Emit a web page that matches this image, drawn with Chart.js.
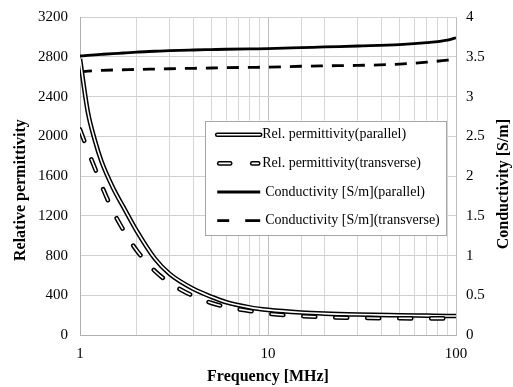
<!DOCTYPE html>
<html>
<head>
<meta charset="utf-8">
<script src="https://cdn.jsdelivr.net/npm/chart.js@4.4.1/dist/chart.umd.min.js"></script>
<style>
  html, body { margin: 0; padding: 0; background: #fff; }
  #wrap { width: 513px; height: 387px; }
</style>
</head>
<body>
<div id="wrap"><canvas id="chart"></canvas></div>
<script>
// === Data ===
const freqMHz = [1, 1.1, 1.2, 1.3, 1.5, 1.7, 2, 2.5, 3, 4, 5, 6, 8, 10, 15, 20, 30, 50, 70, 90, 100];
const permParallel = [2780, 2250, 1960, 1750, 1480, 1290, 1050, 770, 615, 465, 385, 330, 278, 253, 226, 215, 206, 199, 195, 192, 191];
const permTransverse = [2070, 1860, 1680, 1510, 1245, 1058, 853, 645, 525, 393, 322, 283, 242, 215, 190, 180, 172, 168, 167, 167, 168];
const condParallel = [3.512, 3.52, 3.527, 3.533, 3.543, 3.55, 3.562, 3.572, 3.58, 3.588, 3.593, 3.597, 3.602, 3.605, 3.617, 3.626, 3.638, 3.655, 3.68, 3.712, 3.74];
const condTransverse = [3.31, 3.322, 3.327, 3.331, 3.336, 3.339, 3.343, 3.348, 3.352, 3.357, 3.361, 3.365, 3.369, 3.372, 3.383, 3.388, 3.394, 3.41, 3.435, 3.46, 3.475];

const seriesNames = [
  "Rel. permittivity(parallel)",
  "Rel. permittivity(transverse)",
  "Conductivity [S/m](parallel)",
  "Conductivity [S/m](transverse)",
];
const leftTitle = "Relative permittivity";
const rightTitle = "Conductivity [S/m]";

const SERIF = "'Liberation Serif', 'Times New Roman', serif";
const toPoints = (ys) => freqMHz.map((f, i) => ({ x: f, y: ys[i] }));

const PERM_DASH = [12, 20];
const COND_DASH = [12, 9];
const OUTER = 4.6;
const INNER = 1.6;
const COND_W = 2.8;

// double line = wide black stroke + thin white stroke on top
const datasets = [
  { label: seriesNames[1], data: toPoints(permTransverse), borderColor: "#fff", borderWidth: INNER, borderDash: PERM_DASH, borderCapStyle: "round", order: 0, yAxisID: "y" },
  { label: seriesNames[1], data: toPoints(permTransverse), borderColor: "#000", borderWidth: OUTER, borderDash: PERM_DASH, borderCapStyle: "round", order: 1, yAxisID: "y" },
  { label: seriesNames[0], data: toPoints(permParallel), borderColor: "#fff", borderWidth: INNER, order: 2, yAxisID: "y" },
  { label: seriesNames[0], data: toPoints(permParallel), borderColor: "#000", borderWidth: OUTER, order: 3, yAxisID: "y" },
  { label: seriesNames[2], data: toPoints(condParallel), borderColor: "#000", borderWidth: COND_W, order: 4, yAxisID: "y1" },
  { label: seriesNames[3], data: toPoints(condTransverse), borderColor: "#000", borderWidth: COND_W, borderDash: COND_DASH, order: 5, yAxisID: "y1" },
];
datasets.forEach((ds) => {
  ds.pointRadius = 0;
  ds.fill = false;
  ds.cubicInterpolationMode = "monotone";
});

// === Legend box + y axis titles ===
function stroke(ctx, segs, cy, x0, color, width, cap) {
  ctx.strokeStyle = color;
  ctx.lineWidth = width;
  ctx.lineCap = cap;
  segs.forEach(([a, b]) => {
    ctx.beginPath();
    ctx.moveTo(x0 + a, cy);
    ctx.lineTo(x0 + b, cy);
    ctx.stroke();
  });
}

const boxLegend = {
  id: "boxLegend",
  afterDatasetsDraw(chart) {
    const { ctx, chartArea: a } = chart;
    const w = a.right - a.left;
    const h = a.bottom - a.top;
    const x0 = a.left + w * 0.333;
    const y0 = a.top + h * 0.325;
    const bw = w * 0.642;
    const bh = h * 0.36;
    ctx.save();
    ctx.fillStyle = "#fff";
    ctx.fillRect(x0, y0, bw, bh);
    ctx.strokeStyle = "#a6a6a6";
    ctx.lineWidth = 1;
    ctx.strokeRect(Math.round(x0) + 0.5, Math.round(y0) + 0.5, Math.round(bw), Math.round(bh));

    const rowH = bh / 4;
    ctx.font = "14px " + SERIF;
    ctx.textBaseline = "middle";
    seriesNames.forEach((name, i) => {
      const cy = y0 + rowH * (i + 0.5);
      if (i === 0) {
        stroke(ctx, [[12, 55]], cy, x0, "#000", OUTER, "round");
        stroke(ctx, [[12, 55]], cy, x0, "#fff", INNER, "round");
      } else if (i === 1) {
        stroke(ctx, [[14, 25], [47, 53]], cy, x0, "#000", OUTER, "round");
        stroke(ctx, [[14, 25], [47, 53]], cy, x0, "#fff", INNER, "round");
      } else if (i === 2) {
        stroke(ctx, [[12, 55]], cy, x0, "#000", COND_W, "butt");
      } else {
        stroke(ctx, [[12, 24], [40, 55]], cy, x0, "#000", COND_W, "butt");
      }
      ctx.fillStyle = "#000";
      ctx.fillText(name, x0 + 57 + (i > 1 ? 3 : 0), cy);
    });
    ctx.restore();
  },
  afterDraw(chart) {
    const { ctx, chartArea: a } = chart;
    const mid = (a.top + a.bottom) / 2;
    ctx.save();
    ctx.fillStyle = "#000";
    ctx.font = "bold 16px " + SERIF;
    ctx.textAlign = "center";
    ctx.textBaseline = "middle";
    ctx.translate(chart.scales.y.left + 21, mid + 14);
    ctx.rotate(-Math.PI / 2);
    ctx.fillText(leftTitle, 0, 0);
    ctx.restore();
    ctx.save();
    ctx.fillStyle = "#000";
    ctx.font = "bold 16px " + SERIF;
    ctx.textAlign = "center";
    ctx.textBaseline = "middle";
    ctx.translate(chart.scales.y1.right - 9, mid + 8);
    ctx.rotate(-Math.PI / 2);
    ctx.fillText(rightTitle, 0, 0);
    ctx.restore();
  },
};

// === Chart ===
const isMajor = (v) => [1, 10, 100].includes(Math.round(v * 1000) / 1000);

new Chart(document.getElementById("chart"), {
  type: "line",
  data: { datasets },
  plugins: [boxLegend],
  options: {
    responsive: true,
    maintainAspectRatio: false,
    animation: false,
    layout: { padding: { top: 17, right: 0, left: 0, bottom: 0 } },
    plugins: { legend: { display: false }, tooltip: { enabled: false } },
    scales: {
      x: {
        type: "logarithmic",
        min: 1,
        max: 100,
        afterFit: (s) => { s.height = 52; },
        grid: {
          color: (c) => (isMajor(c.tick.value) ? "#bdbdbd" : "#d6d6d6"),
          drawTicks: false,
        },
        border: { color: "#b0b0b0" },
        ticks: {
          autoSkip: false,
          maxRotation: 0,
          padding: 10,
          color: "#000",
          font: { family: SERIF, size: 15 },
          callback: (v) => (isMajor(v) ? String(v) : ""),
        },
        title: {
          display: true,
          text: "Frequency [MHz]",
          color: "#000",
          padding: { top: 0, bottom: 1 },
          font: { family: SERIF, size: 16, weight: "bold" },
        },
      },
      y: {
        position: "left",
        min: 0,
        max: 3200,
        afterFit: (s) => { s.width = 80; },
        grid: { color: "#d0d0d0", drawTicks: false },
        border: { color: "#b0b0b0" },
        ticks: {
          stepSize: 400,
          padding: 12,
          color: "#000",
          font: { family: SERIF, size: 15, lineHeight: 0.7 },
          callback: (v) => String(v),
        },
      },
      y1: {
        position: "right",
        min: 0,
        max: 4,
        afterFit: (s) => { s.width = 57; },
        grid: { display: false, drawTicks: false },
        border: { display: false },
        ticks: {
          stepSize: 0.5,
          padding: 10,
          color: "#000",
          font: { family: SERIF, size: 15, lineHeight: 0.7 },
          callback: (v) => String(v),
        },
      },
    },
  },
});
</script>
</body>
</html>
